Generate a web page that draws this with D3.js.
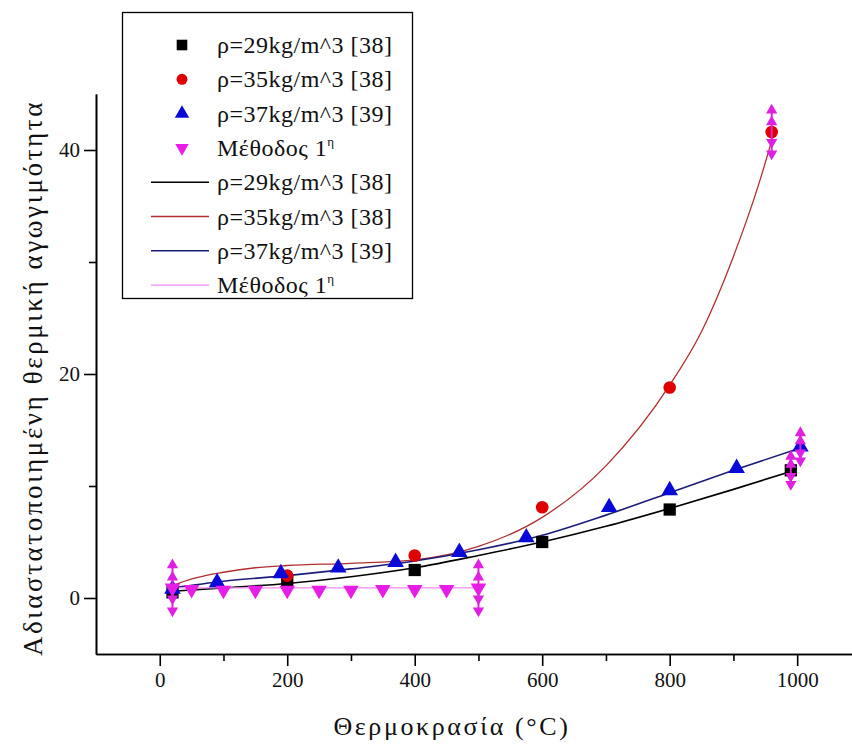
<!DOCTYPE html>
<html>
<head>
<meta charset="utf-8">
<script src="https://cdn.jsdelivr.net/npm/d3@7"></script>
<style>
  body { margin: 0; background: #fff; }
  text { font-family: "Liberation Serif", "Times New Roman", serif; fill: #111; }
</style>
</head>
<body>
<svg id="chart"></svg>
<script>
// measured points
const temp29 = [20, 200, 400, 600, 800, 990];
const cond29 = [0.5, 1.4, 2.5, 5.0, 7.9, 11.4];
const temp35 = [200, 400, 600, 800, 960];
const cond35 = [2.0, 3.8, 8.1, 18.8, 41.6];
const temp37 = [20, 90, 190, 280, 370, 470, 575, 705, 800, 905, 1005];
const cond37 = [0.8, 1.4, 2.2, 2.7, 3.2, 4.1, 5.4, 8.1, 9.6, 11.6, 13.5];
const tempM1 = [20, 50, 100, 150, 200, 250, 300, 350, 400, 450, 500];
const condM1 = [0.9, 0.75, 0.7, 0.7, 0.7, 0.7, 0.7, 0.75, 0.75, 0.75, 0.9];

// fitted curves
const fit29X = [20, 100, 200, 300, 400, 500, 600, 700, 800, 900, 990];
const fit29Y = [0.6, 0.9, 1.3, 1.9, 2.7, 3.8, 5.0, 6.4, 8.0, 9.7, 11.3];
const fit35X = [20, 50, 100, 150, 200, 300, 400, 500, 600, 700, 800, 850, 900, 940, 965];
const fit35Y = [1.1, 1.7, 2.3, 2.7, 2.9, 3.1, 3.4, 4.6, 7.2, 11.8, 19.0, 23.8, 30.5, 37.0, 41.8];
const fit37X = [20, 100, 200, 300, 400, 500, 600, 700, 800, 900, 1005];
const fit37Y = [0.9, 1.5, 2.0, 2.6, 3.3, 4.3, 5.6, 7.4, 9.4, 11.4, 13.4];
const fitM1X = [20, 500];
const fitM1Y = [0.9, 0.9];

// error bars (magenta)
const errX = [20, 500, 960, 990, 1005];
const errY = [0.9, 0.9, 41.6, 11.4, 13.5];
const errD = [2.4, 2.4, 2.3, 1.6, 1.6];

const xMajor = [0, 200, 400, 600, 800, 1000];
const xMinor = [100, 300, 500, 700, 900];
const yMajor = [0, 20, 40];
const yMinor = [10, 30];

const legendNames = ['ρ=29kg/m^3 [38]', 'ρ=35kg/m^3 [38]', 'ρ=37kg/m^3 [39]', 'Μέθοδος 1'];

const zip = (xs, ys) => xs.map((x, i) => ({x: x, y: ys[i]}));

class ConductivityChart {
  constructor(_config) {
    this.config = {
      parentElement: _config.parentElement,
      containerWidth: _config.containerWidth || 852,
      containerHeight: _config.containerHeight || 749
    };
    this.initVis();
  }

  initVis() {
    let vis = this;

    vis.svg = d3.select(vis.config.parentElement)
        .attr('width', vis.config.containerWidth)
        .attr('height', vis.config.containerHeight);

    vis.xScale = d3.scaleLinear().domain([-100, 1086]).range([96, 852]);
    vis.yScale = d3.scaleLinear().domain([-5, 45]).range([654, 94]);

    vis.series = [
      {name: legendNames[0], pts: zip(temp29, cond29), fit: zip(fit29X, fit29Y),
        marker: d3.symbolSquare, size: 150, rot: 0, color: '#000', line: '#000', lw: 1.6},
      {name: legendNames[1], pts: zip(temp35, cond35), fit: zip(fit35X, fit35Y),
        marker: d3.symbolCircle, size: 125, rot: 0, color: '#e00000', line: '#b03030', lw: 1.3},
      {name: legendNames[2], pts: zip(temp37, cond37), fit: zip(fit37X, fit37Y),
        marker: d3.symbolTriangle, size: 120, rot: 0, color: '#0a0ad8', line: '#1c1c78', lw: 1.6},
      {name: legendNames[3], pts: zip(tempM1, condM1), fit: zip(fitM1X, fitM1Y),
        marker: d3.symbolTriangle, size: 105, rot: 180, color: '#e81ee8', line: '#f08cf0', lw: 1.3}
    ];

    vis.chart = vis.svg.append('g');
  }

  renderVis() {
    let vis = this;

    // axes
    const xAxis = d3.axisBottom(vis.xScale).tickValues(xMajor).tickSize(12).tickSizeOuter(0)
        .tickPadding(6).tickFormat(d3.format('d'));
    const xAxisMinor = d3.axisBottom(vis.xScale).tickValues(xMinor).tickSize(7).tickSizeOuter(0).tickFormat('');
    const yAxis = d3.axisLeft(vis.yScale).tickValues(yMajor).tickSize(12).tickSizeOuter(0).tickPadding(4);
    const yAxisMinor = d3.axisLeft(vis.yScale).tickValues(yMinor).tickSize(7).tickSizeOuter(0).tickFormat('');

    const xG = vis.chart.append('g').attr('transform', `translate(0,${vis.yScale(-5)})`).call(xAxis);
    vis.chart.append('g').attr('transform', `translate(0,${vis.yScale(-5)})`).call(xAxisMinor);
    const yG = vis.chart.append('g').attr('transform', `translate(${vis.xScale(-100)},0)`).call(yAxis);
    vis.chart.append('g').attr('transform', `translate(${vis.xScale(-100)},0)`).call(yAxisMinor);

    vis.chart.selectAll('.domain, .tick line').attr('stroke', '#000').attr('stroke-width', 1.6);
    xG.selectAll('text').style('font-size', '21px').attr('fill', '#222');
    yG.selectAll('text').style('font-size', '21px').attr('fill', '#222');

    // axis titles
    vis.svg.append('text')
        .attr('x', 452).attr('y', 735)
        .attr('text-anchor', 'middle')
        .style('font-size', '26px')
        .style('letter-spacing', '2.6px')
        .text('Θερμοκρασία (°C)');

    vis.svg.append('text')
        .attr('transform', 'translate(42,378) rotate(-90)')
        .attr('text-anchor', 'middle')
        .style('font-size', '27px')
        .style('letter-spacing', '2.6px')
        .text('Αδιαστατοποιημένη θερμική αγωγιμότητα');

    // fit lines
    const line = d3.line()
        .x(d => vis.xScale(d.x))
        .y(d => vis.yScale(d.y))
        .curve(d3.curveMonotoneX);

    vis.chart.selectAll('.fit')
      .data(vis.series)
      .join('path')
        .attr('class', 'fit')
        .attr('d', d => line(d.fit))
        .attr('fill', 'none')
        .attr('stroke', d => d.line)
        .attr('stroke-width', d => d.lw);

    // markers
    vis.series.forEach(s => {
      vis.chart.append('g').selectAll('path')
        .data(s.pts)
        .join('path')
          .attr('d', d3.symbol().type(s.marker).size(s.size))
          .attr('transform', d => `translate(${vis.xScale(d.x)},${vis.yScale(d.y)}) rotate(${s.rot})`)
          .attr('fill', s.color);
    });

    // error bars with arrow heads
    const errs = errX.map((x, i) => ({x: x, y: errY[i], d: errD[i]}));
    const eg = vis.chart.append('g').selectAll('g')
      .data(errs)
      .join('g')
        .attr('transform', d => `translate(${vis.xScale(d.x)},0)`);
    eg.append('line')
        .attr('y1', d => vis.yScale(d.y + d.d))
        .attr('y2', d => vis.yScale(d.y - d.d))
        .attr('stroke', '#e020e0')
        .attr('stroke-width', 2);
    const tri = d3.symbol().type(d3.symbolTriangle).size(55);
    [1, 0.55].forEach(f => {
      eg.append('path').attr('d', tri)
        .attr('transform', d => `translate(0,${vis.yScale(d.y + d.d * f) + 4})`)
        .attr('fill', '#e020e0');
      eg.append('path').attr('d', tri)
        .attr('transform', d => `translate(0,${vis.yScale(d.y - d.d * f) - 4}) rotate(180)`)
        .attr('fill', '#e020e0');
    });

    // legend
    const lg = vis.svg.append('g');
    lg.append('rect')
        .attr('x', 122.5).attr('y', 12.5)
        .attr('width', 290).attr('height', 286)
        .attr('fill', '#fff')
        .attr('stroke', '#000')
        .attr('stroke-width', 1.3);

    const rowY = i => 45 + i * 34.3;
    const entries = vis.series.map(s => ({s: s, kind: 'marker'}))
      .concat(vis.series.map(s => ({s: s, kind: 'line'})));

    entries.forEach((e, i) => {
      const y = rowY(i);
      if (e.kind === 'marker') {
        lg.append('path')
          .attr('d', d3.symbol().type(e.s.marker).size(e.s.size * 0.75))
          .attr('transform', `translate(182,${y}) rotate(${e.s.rot})`)
          .attr('fill', e.s.color);
      } else {
        lg.append('line')
          .attr('x1', 151).attr('x2', 209)
          .attr('y1', y).attr('y2', y)
          .attr('stroke', e.s.line)
          .attr('stroke-width', e.s.lw);
      }
      const t = lg.append('text')
        .attr('x', 217).attr('y', y + 8)
        .style('font-size', '24px')
        .style('letter-spacing', '0.5px')
        .text(e.s.name);
      if (e.s.name === legendNames[3]) {
        t.append('tspan').attr('dy', -10).style('font-size', '13px').text('η');
      }
    });
  }
}

const chart = new ConductivityChart({parentElement: '#chart'});
chart.renderVis();
</script>
</body>
</html>
